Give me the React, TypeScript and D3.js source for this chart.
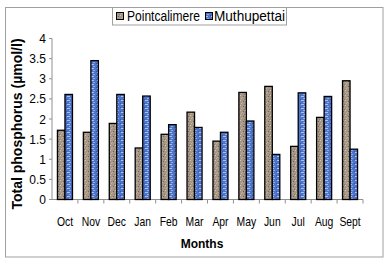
import React from "react";
import * as d3 from "d3";

const months = ["Oct", "Nov", "Dec", "Jan", "Feb", "Mar", "Apr", "May", "Jun", "Jul", "Aug", "Sept"];
const pointcalimere = [1.72, 1.67, 1.89, 1.28, 1.62, 2.17, 1.45, 2.66, 2.81, 1.32, 2.04, 2.95];
const muthupettai = [2.61, 3.45, 2.61, 2.57, 1.86, 1.79, 1.67, 1.95, 1.12, 2.65, 2.56, 1.25];
const seriesNames = ["Pointcalimere", "Muthupettai"];
const yTicks = [0, 0.5, 1, 1.5, 2, 2.5, 3, 3.5, 4];

const W = 389;
const H = 264;
const left = 52;
const right = 363;
const top = 38.5;
const bottom = 199.5;
const font = "'Liberation Sans', Arial, sans-serif";

export default function App() {
  const x0 = d3.scaleBand<string>().domain(months).range([left, right]).paddingInner(0.42).paddingOuter(0.21);
  const x1 = d3.scaleBand<string>().domain(seriesNames).range([0, x0.bandwidth()]);
  const y = d3.scaleLinear().domain([0, 4]).range([bottom, top]);
  const step = x0.step();
  const fills = ["url(#brownTex)", "url(#blueTex)"];
  const data = [pointcalimere, muthupettai];

  return (
    <svg width={W} height={H} style={{ position: "absolute", left: 0, top: 0, background: "#fff" }}>
      <defs>
        <pattern id="brownTex" width="5" height="5" patternUnits="userSpaceOnUse">
          <rect width="5" height="5" fill="#a69686" />
          <rect x="0" y="0" width="1" height="1" fill="#d2c6b8" />
          <rect x="3" y="1" width="1" height="1" fill="#6e6154" />
          <rect x="1" y="3" width="1" height="1" fill="#c4b6a6" />
          <rect x="4" y="4" width="1" height="1" fill="#857768" />
          <rect x="2" y="2" width="1" height="1" fill="#b9ab9b" />
        </pattern>
        <pattern id="blueTex" width="6" height="4" patternUnits="userSpaceOnUse">
          <rect width="6" height="4" fill="#4d74c8" />
          <rect x="1" y="0" width="3" height="1" fill="#a9c1f0" />
          <rect x="3" y="2" width="2" height="1" fill="#8fabe6" />
          <rect x="0" y="3" width="1" height="1" fill="#2f56a8" />
        </pattern>
      </defs>
      <rect x={5.5} y={7.5} width={377.5} height={249.5} fill="none" stroke="#a0a0a0" strokeWidth={1} />

      {/* y axis */}
      <line x1={left} x2={left} y1={top} y2={bottom} stroke="#909090" />
      {yTicks.map((t) => (
        <g key={t}>
          <line x1={left - 3} x2={left} y1={y(t)} y2={y(t)} stroke="#909090" />
          <text x={left - 6} y={y(t) + 4.5} textAnchor="end" fontFamily={font} fontSize={12} fill="#000">
            {t}
          </text>
        </g>
      ))}

      {/* x axis */}
      <line x1={left} x2={right} y1={bottom} y2={bottom} stroke="#909090" />
      {months.map((m, i) => (
        <line key={"t" + m} x1={left + i * step + step} x2={left + i * step + step} y1={bottom} y2={bottom + 4} stroke="#909090" />
      ))}
      {months.map((m) => (
        <text
          key={"l" + m}
          transform={`translate(${(x0(m) as number) + x0.bandwidth() / 2},225.5) scale(0.83,1)`}
          textAnchor="middle"
          fontFamily={font}
          fontSize={12.5}
          fill="#000"
        >
          {m}
        </text>
      ))}

      {/* bars */}
      {months.map((m, i) =>
        seriesNames.map((s, j) => {
          const v = data[j][i];
          return (
            <rect
              key={m + s}
              x={(x0(m) as number) + (x1(s) as number)}
              y={y(v)}
              width={x1.bandwidth()}
              height={y(0) - y(v)}
              fill={fills[j]}
              stroke="#000"
              strokeWidth={1.3}
            />
          );
        })
      )}

      {/* titles */}
      <text x={202} y={247.5} textAnchor="middle" fontFamily={font} fontSize={12} fontWeight="bold" fill="#000">
        Months
      </text>
      <text
        transform={`translate(22,124) rotate(-90)`}
        textAnchor="middle"
        fontFamily={font}
        fontSize={14}
        fontWeight="bold"
        fill="#000"
      >
        Total phosphorus (µmol/l)
      </text>

      {/* legend */}
      <rect x={112.5} y={7.5} width={174} height={17.5} fill="#fff" stroke="#a0a0a0" />
      <rect x={116.5} y={12.5} width={7} height={7} fill="url(#brownTex)" stroke="#000" />
      <text x={127} y={21} fontFamily={font} fontSize={14} fill="#000" textLength={73} lengthAdjust="spacingAndGlyphs">
        {seriesNames[0]}
      </text>
      <rect x={205.5} y={12.5} width={7} height={7} fill="url(#blueTex)" stroke="#000" />
      <text x={214} y={21} fontFamily={font} fontSize={14} fill="#000" textLength={71} lengthAdjust="spacingAndGlyphs">
        {seriesNames[1]}
      </text>
    </svg>
  );
}
